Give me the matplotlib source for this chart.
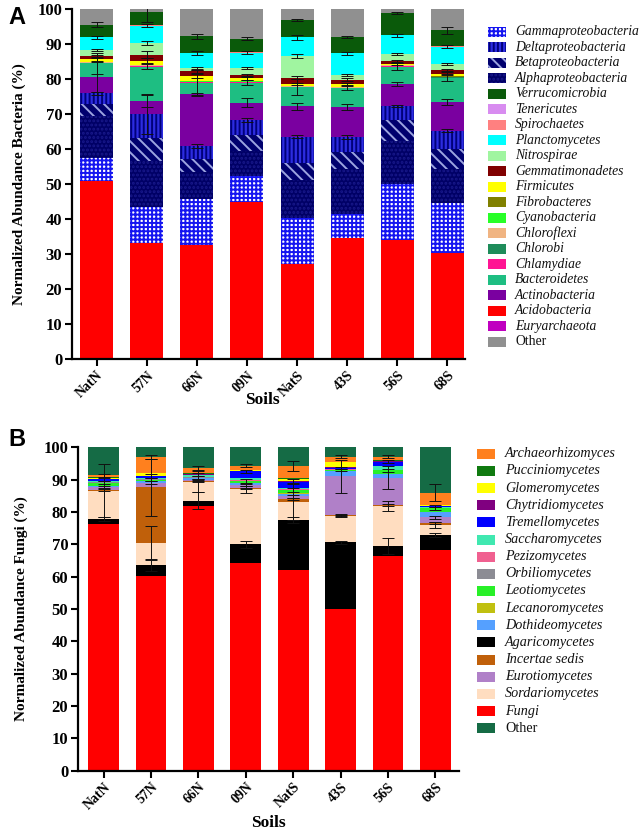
import matplotlib
matplotlib.use("Agg")
import matplotlib.pyplot as plt
from matplotlib.patches import Rectangle
import numpy as np

plt.rcParams['font.family'] = ['Liberation Serif', 'DejaVu Serif']

soils = ["NatN", "57N", "66N", "09N", "NatS", "43S", "56S", "68S"]

# ---------------- Panel A: bacteria (segment sizes, bottom -> top) ----------------
euryarchaeota   = [0.05, 0.05, 0.05, 0.05, 0.05, 0.05, 0.05, 0.05]
acidobacteria   = [51.0, 33.1, 32.6, 45.0, 27.2, 34.7, 34.0, 30.4]
gammaproteo     = [6.4, 10.4, 13.1, 7.3, 13.2, 6.9, 16.0, 14.2]
alphaproteo     = [12.1, 13.1, 7.9, 7.2, 10.7, 12.6, 12.4, 9.8]
betaproteo      = [3.3, 6.5, 3.7, 4.5, 5.0, 5.1, 5.9, 5.5]
deltaproteo     = [3.1, 6.9, 3.6, 4.3, 7.4, 4.2, 4.0, 5.4]
actinobacteria  = [4.8, 3.7, 14.8, 5.0, 8.8, 8.6, 6.3, 8.1]
bacteroidetes   = [3.8, 9.9, 3.3, 5.7, 5.4, 5.3, 5.0, 7.0]
chlamydiae      = [0.05, 0.05, 0.05, 0.05, 0.05, 0.05, 0.05, 0.05]
chlorobi        = [0.1, 0.1, 0.1, 0.1, 0.1, 0.1, 0.1, 0.1]
chloroflexi     = [0.15, 0.15, 0.15, 0.15, 0.15, 0.15, 0.15, 0.15]
cyanobacteria   = [0.05, 0.05, 0.05, 0.05, 0.05, 0.05, 0.05, 0.05]
fibrobacteres   = [0.1, 0.1, 0.1, 0.1, 0.1, 0.1, 0.1, 0.1]
firmicutes      = [0.75, 1.25, 1.45, 0.75, 0.45, 0.75, 0.35, 0.75]
gemmatimonadetes = [0.9, 1.6, 1.3, 1.0, 1.8, 1.2, 0.9, 1.0]
nitrospirae     = [1.6, 3.4, 0.9, 2.1, 6.2, 1.4, 1.9, 1.6]
planctomycetes  = [3.7, 5.0, 4.3, 4.3, 5.3, 6.2, 5.3, 5.1]
spirochaetes    = [0.05, 0.05, 0.05, 0.05, 0.05, 0.05, 0.05, 0.05]
tenericutes     = [0.05, 0.05, 0.05, 0.05, 0.05, 0.05, 0.05, 0.05]
verrucomicrobia = [3.6, 3.8, 4.7, 3.8, 4.9, 4.5, 6.4, 4.6]
other_bact      = [4.3, 0.7, 7.7, 8.4, 3.0, 7.9, 0.9, 5.9]

# error bars (SD) for selected layers
err_delta   = [0.4, 5.8, 0.5, 0.5, 0.4, 0.5, 0.4, 0.5]
err_actino  = [4.3, 1.8, 0.4, 1.2, 1.0, 0.8, 0.6, 0.8]
err_bacter  = [2.9, 0.6, 3.5, 0.7, 2.3, 0.5, 1.1, 1.0]
err_firmi   = [0.4, 0.6, 0.5, 0.4, 0.3, 0.3, 0.3, 0.3]
err_gemma   = [0.4, 1.0, 0.4, 0.4, 0.5, 0.4, 0.3, 0.3]
err_nitro   = [0.3, 0.6, 0.3, 0.3, 0.5, 0.3, 0.4, 0.3]
err_plancto = [0.5, 0.5, 0.6, 0.5, 0.8, 0.4, 0.5, 0.4]
err_verruco = [0.6, 2.8, 0.8, 0.4, 0.3, 0.3, 0.3, 1.0]

# ---------------- Panel B: fungi (segment sizes, bottom -> top) ----------------
fungi           = [76.2, 60.2, 81.9, 64.1, 62.1, 49.9, 66.5, 68.2]
agaricomycetes  = [1.6, 3.4, 1.6, 5.9, 15.4, 20.7, 3.0, 4.7]
sordariomycetes = [8.8, 6.9, 5.9, 17.0, 5.7, 8.2, 12.4, 3.1]
incertae_sedis  = [0.3, 17.1, 0.2, 0.3, 0.7, 0.2, 0.4, 0.7]
eurotiomycetes  = [0.7, 1.5, 0.4, 1.0, 1.0, 12.1, 8.3, 1.6]
dothideomycetes = [0.4, 0.5, 0.4, 0.7, 0.8, 1.5, 1.1, 1.7]
lecanoromycetes = [0.1, 0.1, 0.1, 0.1, 0.1, 0.1, 0.1, 0.1]
leotiomycetes   = [1.0, 0.3, 0.1, 0.5, 1.0, 0.3, 1.1, 1.0]
orbiliomycetes  = [0.1, 0.1, 0.1, 0.1, 0.1, 0.1, 0.1, 0.1]
pezizomycetes   = [0.1, 0.1, 0.1, 0.1, 0.1, 0.1, 0.1, 0.1]
saccharomycetes = [0.4, 0.2, 0.5, 0.6, 0.3, 0.1, 1.0, 0.2]
tremellomycetes = [0.4, 0.7, 0.2, 2.2, 2.1, 0.4, 1.5, 0.4]
chytridiomycetes = [0.1, 0.1, 0.1, 0.1, 0.1, 0.1, 0.1, 0.1]
glomeromycetes  = [0.4, 0.7, 0.2, 0.2, 0.8, 1.7, 0.2, 0.1]
pucciniomycetes = [0.1, 0.1, 0.2, 0.1, 0.3, 0.1, 0.2, 0.1]
archaeorhizomyces = [0.6, 5.1, 1.5, 1.3, 3.6, 1.5, 1.0, 3.8]
other_fungi     = [8.7, 2.9, 6.5, 5.7, 5.8, 2.9, 2.9, 14.0]

err_agarico  = [0.5, 1.8, 2.7, 1.0, 0.8, 0.5, 2.5, 0.5]
err_sordario = [8.3, 5.2, 3.2, 1.0, 5.7, 0.5, 1.5, 1.0]
err_incertae = [0.3, 8.8, 0.2, 0.2, 0.3, 0.2, 0.3, 0.3]
err_euroti   = [0.3, 0.5, 0.3, 0.4, 0.5, 5.1, 3.5, 0.4]
err_leotio   = [0.5, 0.4, 0.4, 0.5, 0.6, 0.3, 0.5, 0.5]
err_tremello = [0.4, 0.5, 0.5, 0.5, 0.8, 0.3, 0.4, 0.4]
err_archaeo  = [0.5, 0.6, 0.6, 0.5, 1.5, 0.4, 0.4, 2.7]

# layer definitions: (label, values, facecolor, hatch, hatchcolor, err)
layers_A = [
    ("Euryarchaeota", euryarchaeota, "#C000C0", None, None, None),
    ("Acidobacteria", acidobacteria, "#FF0000", None, None, None),
    ("Gammaproteobacteria", gammaproteo, "#FFFFFF", "++++", "#1414F0", None),
    ("Alphaproteobacteria", alphaproteo, "#000066", "....", "#18188A", None),
    ("Betaproteobacteria", betaproteo, "#00006E", "\\\\\\", "#9CA4E0", None),
    ("Deltaproteobacteria", deltaproteo, "#2C2CE0", "||||", "#00007A", err_delta),
    ("Actinobacteria", actinobacteria, "#7A00A0", None, None, err_actino),
    ("Bacteroidetes", bacteroidetes, "#1EBE82", None, None, err_bacter),
    ("Chlamydiae", chlamydiae, "#FF1493", None, None, None),
    ("Chlorobi", chlorobi, "#1E8C5A", None, None, None),
    ("Chloroflexi", chloroflexi, "#F0B482", None, None, None),
    ("Cyanobacteria", cyanobacteria, "#28FF28", None, None, None),
    ("Fibrobacteres", fibrobacteres, "#808000", None, None, None),
    ("Firmicutes", firmicutes, "#FFFF00", None, None, err_firmi),
    ("Gemmatimonadetes", gemmatimonadetes, "#800000", None, None, err_gemma),
    ("Nitrospirae", nitrospirae, "#A0F5A0", None, None, err_nitro),
    ("Planctomycetes", planctomycetes, "#00FFFF", None, None, err_plancto),
    ("Spirochaetes", spirochaetes, "#FF8080", None, None, None),
    ("Tenericutes", tenericutes, "#D88CF0", None, None, None),
    ("Verrucomicrobia", verrucomicrobia, "#0A5A0A", None, None, err_verruco),
    ("Other", other_bact, "#909090", None, None, None),
]
legend_order_A = ["Gammaproteobacteria", "Deltaproteobacteria", "Betaproteobacteria",
                  "Alphaproteobacteria", "Verrucomicrobia", "Tenericutes", "Spirochaetes",
                  "Planctomycetes", "Nitrospirae", "Gemmatimonadetes", "Firmicutes",
                  "Fibrobacteres", "Cyanobacteria", "Chloroflexi", "Chlorobi", "Chlamydiae",
                  "Bacteroidetes", "Actinobacteria", "Acidobacteria", "Euryarchaeota", "Other"]

layers_B = [
    ("Fungi", fungi, "#FF0000", None, None, None),
    ("Agaricomycetes", agaricomycetes, "#000000", None, None, err_agarico),
    ("Sordariomycetes", sordariomycetes, "#FFDDC0", None, None, err_sordario),
    ("Incertae sedis", incertae_sedis, "#C0600A", None, None, err_incertae),
    ("Eurotiomycetes", eurotiomycetes, "#B080C8", None, None, err_euroti),
    ("Dothideomycetes", dothideomycetes, "#55A0FF", None, None, None),
    ("Lecanoromycetes", lecanoromycetes, "#C0C010", None, None, None),
    ("Leotiomycetes", leotiomycetes, "#28F028", None, None, err_leotio),
    ("Orbiliomycetes", orbiliomycetes, "#8C8C94", None, None, None),
    ("Pezizomycetes", pezizomycetes, "#F06090", None, None, None),
    ("Saccharomycetes", saccharomycetes, "#40E8B0", None, None, None),
    ("Tremellomycetes", tremellomycetes, "#0000FF", None, None, err_tremello),
    ("Chytridiomycetes", chytridiomycetes, "#800080", None, None, None),
    ("Glomeromycetes", glomeromycetes, "#FFFF00", None, None, None),
    ("Pucciniomycetes", pucciniomycetes, "#107A10", None, None, None),
    ("Archaeorhizomyces", archaeorhizomyces, "#FF801E", None, None, err_archaeo),
    ("Other", other_fungi, "#156B45", None, None, None),
]
legend_order_B = ["Archaeorhizomyces", "Pucciniomycetes", "Glomeromycetes", "Chytridiomycetes",
                  "Tremellomycetes", "Saccharomycetes", "Pezizomycetes", "Orbiliomycetes",
                  "Leotiomycetes", "Lecanoromycetes", "Dothideomycetes", "Agaricomycetes",
                  "Incertae sedis", "Eurotiomycetes", "Sordariomycetes", "Fungi", "Other"]

W, H = 641, 832
fig = plt.figure(figsize=(W / 100, H / 100), dpi=100)
plt.rcParams['hatch.linewidth'] = 1.4


def fx(px):
    return px / W


def fy(py):
    return 1 - py / H


def draw_panel(ax, layers, width, xlim):
    x = np.arange(len(soils))
    bottom = np.zeros(len(soils))
    errs = []
    for label, vals, fc, hatch, hc, err in layers:
        vals = np.array(vals, dtype=float)
        if hatch:
            ax.bar(x, vals, width, bottom=bottom, color=fc, edgecolor=hc, hatch=hatch,
                   linewidth=0, zorder=2)
        else:
            ax.bar(x, vals, width, bottom=bottom, color=fc, linewidth=0, zorder=2)
        bottom = bottom + vals
        if err is not None:
            errs.append((bottom.copy(), np.array(err)))
    for tops, err in errs:
        ax.errorbar(x, tops, yerr=err, fmt='none', ecolor='#111111', elinewidth=0.7,
                    capsize=4.5, capthick=0.7, zorder=5)
    ax.set_xlim(*xlim)
    ax.set_ylim(0, 100)
    ax.set_yticks(np.arange(0, 101, 10))
    ax.set_xticks(x)
    ax.set_xticklabels(soils, rotation=45, ha='right', rotation_mode='anchor',
                       fontsize=10, fontweight='bold')
    for t in ax.get_yticklabels():
        t.set_fontsize(12)
        t.set_fontweight('bold')
    for s in ['top', 'right']:
        ax.spines[s].set_visible(False)
    for s in ['left', 'bottom']:
        ax.spines[s].set_linewidth(1.6)
    ax.tick_params(axis='both', direction='out', length=5, width=1.5, pad=2)


def draw_legend(order, layers, x0, y0, dy, tx, fs):
    lut = {l[0]: l for l in layers}
    for i, name in enumerate(order):
        _, _, fc, hatch, hc, _ = lut[name]
        yc = y0 + i * dy
        r = Rectangle((fx(x0), fy(yc + 5)), fx(18), 10 / H, transform=fig.transFigure,
                      facecolor=fc, edgecolor=hc if hatch else fc, hatch=hatch,
                      linewidth=0)
        fig.patches.append(r)
        style = 'normal' if name == 'Other' else 'italic'
        fig.text(fx(tx), fy(yc), name, fontsize=fs, style=style, va='center', ha='left',
                 color='#111111')


# Panel A
axA = fig.add_axes([fx(72), fy(359.3), fx(465 - 72), 350 / H])
draw_panel(axA, layers_A, 0.66, (-0.49, 7.35))
fig.text(fx(19), fy(184), "Normalized Abundance Bacteria (%)", rotation=90, fontsize=11,
         fontweight='bold', ha='center', va='center')
fig.text(fx(262), fy(400), "Soils", fontsize=12.5, fontweight='bold', ha='center', va='center')
fig.text(fx(8), fy(17), "A", fontsize=17, fontweight='bold', family='Liberation Sans',
         ha='left', va='center')
draw_legend(legend_order_A, layers_A, 488, 31.7, 15.5, 515, 9.8)

# Panel B
axB = fig.add_axes([fx(78), fy(770.7), fx(459 - 78), 323.4 / H])
draw_panel(axB, layers_B, 0.65, (-0.54, 7.5))
fig.text(fx(21), fy(609), "Normalized Abundance Fungi (%)", rotation=90, fontsize=11,
         fontweight='bold', ha='center', va='center')
fig.text(fx(268), fy(823), "Soils", fontsize=12.5, fontweight='bold', ha='center', va='center')
fig.text(fx(8), fy(440), "B", fontsize=17, fontweight='bold', family='Liberation Sans',
         ha='left', va='center')
draw_legend(legend_order_B, layers_B, 477, 453.7, 17.16, 505, 10.2)

fig.savefig("out.png", dpi=100)
